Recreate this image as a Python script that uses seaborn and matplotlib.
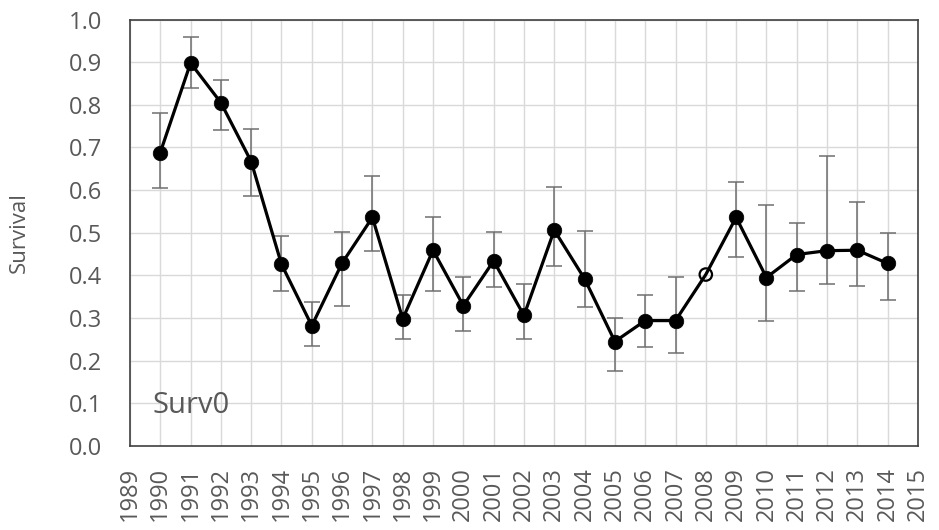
import numpy as np
import pandas as pd
import matplotlib
matplotlib.use("Agg")
import matplotlib.pyplot as plt
import seaborn as sns

years = list(range(1990, 2015))
survival = [0.688, 0.898, 0.805, 0.667, 0.426, 0.282, 0.429, 0.536, 0.298, 0.459,
            0.329, 0.434, 0.306, 0.506, 0.392, 0.245, 0.294, 0.294, 0.402, 0.536,
            0.395, 0.449, 0.458, 0.459, 0.428]
upper = [0.780, 0.960, 0.858, 0.744, 0.493, 0.337, 0.502, 0.634, 0.355, 0.538,
         0.397, 0.502, 0.379, 0.607, 0.505, 0.301, 0.355, 0.397, np.nan, 0.618,
         0.566, 0.523, 0.681, 0.573, 0.500]
lower = [0.604, 0.840, 0.741, 0.586, 0.364, 0.234, 0.329, 0.458, 0.251, 0.364,
         0.269, 0.373, 0.251, 0.421, 0.326, 0.176, 0.233, 0.218, np.nan, 0.442,
         0.292, 0.364, 0.379, 0.376, 0.343]
open_years = [2008]
x_ticks = list(range(1989, 2016))
y_ticks = [round(0.1 * i, 1) for i in range(11)]
panel_label = "Surv0"
y_label = "Survival"

df = pd.DataFrame({"year": years, "surv": survival, "up": upper, "lo": lower})
df["open"] = df["year"].isin(open_years)

sns.set_style("white")
plt.rcParams["font.family"] = ["Open Sans", "DejaVu Sans"]

fig = plt.figure(figsize=(9.39, 5.30), dpi=100)
ax = fig.add_axes([0.1384, 0.1585, 0.8392, 0.8047])

gray_text = "#595959"

# error bars
ax.errorbar(df["year"], df["surv"],
            yerr=[df["surv"] - df["lo"], df["up"] - df["surv"]],
            fmt="none", ecolor="#6f6f6f", elinewidth=1.1, capsize=6, capthick=1.1, zorder=2)

sns.lineplot(data=df, x="year", y="surv", color="black", linewidth=2.3, ax=ax, zorder=3)
filled = df[~df["open"]]
sns.scatterplot(data=filled, x="year", y="surv", color="black", s=110, edgecolor="black",
                linewidth=0.5, ax=ax, zorder=4)
opn = df[df["open"]]
ax.scatter(opn["year"], opn["surv"], s=80, facecolors="none", edgecolors="black",
           linewidths=1.6, zorder=4)

ax.set_xlim(1989, 2015)
ax.set_ylim(0, 1.0)
ax.set_xticks(x_ticks)
ax.set_xticklabels([str(v) for v in x_ticks], rotation=90, fontsize=17, color=gray_text)
ax.set_yticks(y_ticks)
ax.set_yticklabels([f"{v:.1f}" for v in y_ticks], fontsize=17, color=gray_text)
ax.tick_params(axis="y", length=0, pad=20)
ax.tick_params(axis="x", length=0, pad=15)
ax.grid(True, color="#d9d9d9", linewidth=1)
ax.set_axisbelow(True)
for s in ax.spines.values():
    s.set_color("#404040")
    s.set_linewidth(1.2)
    s.set_visible(True)

ax.set_xlabel("")
ax.set_ylabel(y_label, fontsize=16, color=gray_text, labelpad=28)
ax.text(1989.75, 0.094, panel_label, fontsize=21, color=gray_text, ha="left", va="center")

fig.savefig("out.png", dpi=100)
